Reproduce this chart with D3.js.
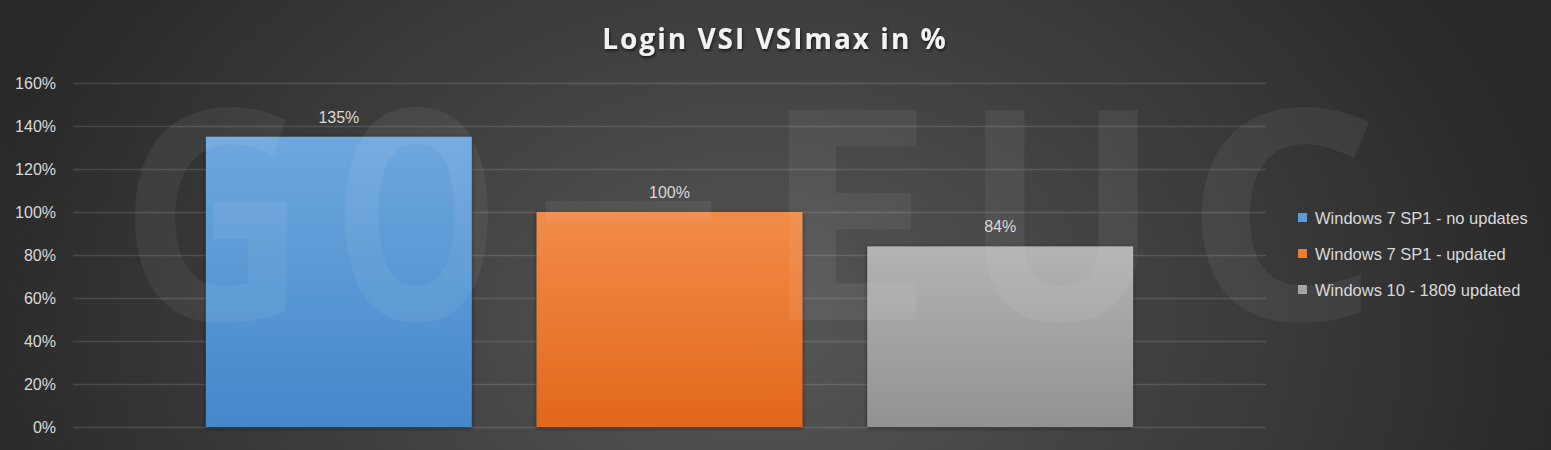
<!DOCTYPE html>
<html><head><meta charset="utf-8">
<script src="https://cdn.jsdelivr.net/npm/d3@7"></script>
<style>html,body{margin:0;padding:0;background:#2b2b2b;overflow:hidden}</style>
</head><body>
<svg id="chart" width="1551" height="450"></svg>
<script>
const title = "Login VSI VSImax in %";
const series = ["Windows 7 SP1 - no updates", "Windows 7 SP1 - updated", "Windows 10 - 1809 updated"];
const values = [135, 100, 84];
const yTicks = [0, 20, 40, 60, 80, 100, 120, 140, 160];
const watermark = "GO-EUC";

const colorsTop = ["#6fa7de", "#f28b4a", "#b3b3b3"];
const colorsBottom = ["#4388ca", "#e2681a", "#929292"];
const legendColors = ["#5b9bd5", "#ed7d31", "#a5a5a5"];

// watermark letter layout (decoration only): [left, right] in px
const wmSpans = [[120, 307], [333, 500], [527, 730], [761, 935], [963, 1160], [1184, 1380]];

const W = 1551, H = 450;
const svg = d3.select("#chart");
const defs = svg.append("defs");

const bg = defs.append("radialGradient").attr("id", "bg")
  .attr("gradientUnits", "userSpaceOnUse")
  .attr("cx", 760).attr("cy", 330).attr("r", 820)
  .attr("gradientTransform", "translate(760,330) scale(1,0.75) translate(-760,-330)");
bg.append("stop").attr("offset", "0%").attr("stop-color", "#575757");
bg.append("stop").attr("offset", "100%").attr("stop-color", "#282828");
svg.append("rect").attr("width", W).attr("height", H).attr("fill", "url(#bg)");

series.forEach((s, i) => {
  const g = defs.append("linearGradient").attr("id", "bar" + i)
    .attr("x1", 0).attr("y1", 0).attr("x2", 0).attr("y2", 1);
  g.append("stop").attr("offset", "0%").attr("stop-color", colorsTop[i]);
  g.append("stop").attr("offset", "100%").attr("stop-color", colorsBottom[i]);
});
const f = defs.append("filter").attr("id", "shadow").attr("x", "-10%").attr("y", "-10%").attr("width", "120%").attr("height", "120%");
f.append("feDropShadow").attr("dx", 0).attr("dy", 1).attr("stdDeviation", 2).attr("flood-color", "#000").attr("flood-opacity", 0.5);
const tf = defs.append("filter").attr("id", "tshadow");
tf.append("feDropShadow").attr("dx", 1).attr("dy", 2).attr("stdDeviation", 1.5).attr("flood-color", "#000").attr("flood-opacity", 0.6);

const x = d3.scaleBand().domain(series).range([73, 1266]).paddingInner(0.196).paddingOuter(0.402);
const y = d3.scaleLinear().domain([0, 160]).range([427, 83]);

// gridlines
svg.append("g").selectAll("line").data(yTicks).join("line")
  .attr("x1", 73).attr("x2", 1266).attr("y1", d => y(d) + 0.5).attr("y2", d => y(d) + 0.5)
  .attr("stroke", "#ffffff").attr("stroke-opacity", 0.13).attr("stroke-width", 1.6);

// y axis labels
const yAxis = d3.axisLeft(y).tickValues(yTicks).tickFormat(d => d + "%").tickSize(0).tickPadding(0);
const ga = svg.append("g").attr("transform", "translate(56,0)").call(yAxis);
ga.select(".domain").remove();
ga.selectAll("text").attr("fill", "#d9d9d9").style("font-family", "'Liberation Sans', Arial, sans-serif").style("font-size", "16px");

// bars
svg.append("g").selectAll("rect").data(series).join("rect")
  .attr("x", d => x(d)).attr("width", x.bandwidth())
  .attr("y", (d, i) => y(values[i])).attr("height", (d, i) => y(0) - y(values[i]))
  .attr("fill", (d, i) => `url(#bar${i})`).attr("filter", "url(#shadow)");

// watermark (faint logo letters)
svg.append("g").selectAll("text").data(watermark.split("")).join("text")
  .attr("x", (d, i) => wmSpans[i][0]).attr("y", (d, i) => d === "-" ? 260 : 320)
  .attr("textLength", (d, i) => wmSpans[i][1] - wmSpans[i][0]).attr("lengthAdjust", "spacingAndGlyphs")
  .style("font-family", "'Open Sans', sans-serif").style("font-weight", "bold")
  .style("font-size", (d) => d === "-" ? "180px" : "294px")
  .attr("fill", "#ffffff").attr("fill-opacity", 0.06).text(d => d);

// data labels
svg.append("g").selectAll("text").data(series).join("text")
  .attr("x", d => x(d) + x.bandwidth() / 2).attr("y", (d, i) => y(values[i]) - 14)
  .attr("text-anchor", "middle").attr("fill", "#d9d9d9")
  .style("font-family", "'Liberation Sans', Arial, sans-serif").style("font-size", "16px")
  .text((d, i) => values[i] + "%");

// title
svg.append("text").attr("x", 775).attr("y", 49).attr("text-anchor", "middle")
  .attr("fill", "#f2f2f2").attr("filter", "url(#tshadow)")
  .style("font-family", "'Open Sans', sans-serif").style("font-weight", "bold").style("font-size", "28px")
  .style("letter-spacing", "2px").text(title);

// legend
const lg = svg.append("g").selectAll("g").data(series).join("g")
  .attr("transform", (d, i) => `translate(1298, ${218 + i * 36})`);
lg.append("rect").attr("x", 0).attr("y", -5).attr("width", 9).attr("height", 9)
  .attr("fill", (d, i) => legendColors[i]);
lg.append("text").attr("x", 17).attr("y", 0).attr("dy", "0.35em").attr("fill", "#d9d9d9")
  .style("font-family", "'Liberation Sans', Arial, sans-serif").style("font-size", "16.5px").text(d => d);
</script>
</body></html>
